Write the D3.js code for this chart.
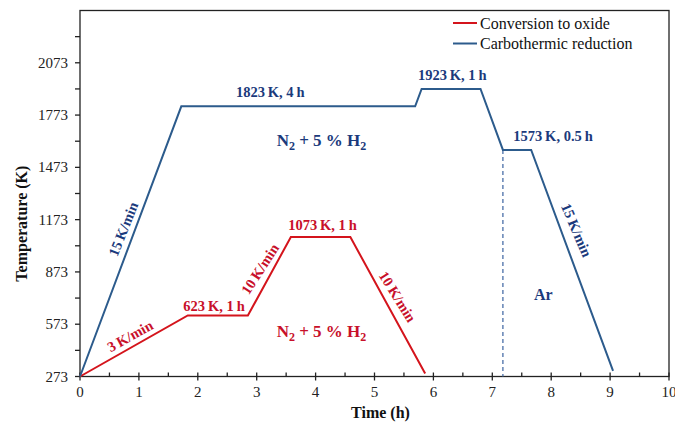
<!DOCTYPE html>
<html>
<head>
<meta charset="utf-8">
<script src="https://cdn.jsdelivr.net/npm/d3@7"></script>
<style>
  html, body { margin: 0; padding: 0; background: #fff; }
  svg text { font-family: "Liberation Serif", "Times New Roman", Times, "DejaVu Serif", serif; }
</style>
</head>
<body>
<svg id="chart" width="675" height="426"></svg>
<script>
// ---- data ----
const seriesNames = ["Conversion to oxide", "Carbothermic reduction"];
const redTime = [0, 1.83, 2.85, 3.58, 4.59, 5.86];
const redTemp = [273, 623, 623, 1073, 1073, 290];
const blueTime = [0, 1.72, 5.69, 5.80, 6.80, 7.18, 7.66, 9.05];
const blueTemp = [273, 1823, 1823, 1923, 1923, 1573, 1573, 305];
const xTicks = [0, 1, 2, 3, 4, 5, 6, 7, 8, 9, 10];
const yTicks = [273, 573, 873, 1173, 1473, 1773, 2073];
const gasSwitchTime = [7.18];
const gasSwitchTemp = [1573];

// ---- layout ----
const FONT = '"Liberation Serif", "Times New Roman", Times, "DejaVu Serif", serif';
const W = 675, H = 426;
const M = { left: 80, right: 6, top: 10.5, bottom: 49.5 };
const RED_LINE = "#d4141c", RED_TEXT = "#c8102a";
const BLUE_LINE = "#2c5b8c", BLUE_TEXT = "#1b3a7c";

const svg = d3.select("#chart");
const x = d3.scaleLinear().domain([0, 10]).range([M.left, W - M.right]);
const y = d3.scaleLinear().domain([273, 2373]).range([H - M.bottom, M.top]);

// frame
svg.append("rect")
  .attr("x", x(0)).attr("y", y(2373))
  .attr("width", x(10) - x(0)).attr("height", y(273) - y(2373))
  .attr("fill", "none").attr("stroke", "#222").attr("stroke-width", 1.3);

// x axis ticks
const gx = svg.append("g");
const xMinor = d3.range(0.5, 10, 1);
gx.selectAll("line.maj").data(xTicks).join("line")
  .attr("x1", d => x(d)).attr("x2", d => x(d))
  .attr("y1", y(273) - 4).attr("y2", y(273) + 4)
  .attr("stroke", "#222").attr("stroke-width", 1.3);
gx.selectAll("line.min").data(xMinor).join("line")
  .attr("x1", d => x(d)).attr("x2", d => x(d))
  .attr("y1", y(273) - 4).attr("y2", y(273))
  .attr("stroke", "#222").attr("stroke-width", 1.3);
gx.selectAll("text").data(xTicks).join("text")
  .attr("x", d => x(d)).attr("y", y(273) + 20)
  .attr("text-anchor", "middle").attr("font-size", 15).attr("fill", "#222")
  .attr("font-family", FONT)
  .text(d => d);

// y axis ticks
const gy = svg.append("g");
const yMinor = d3.range(423, 2373, 300);
gy.selectAll("line.maj").data(yTicks.concat(yMinor)).join("line")
  .attr("x1", x(0) - 5).attr("x2", x(0))
  .attr("y1", d => y(d)).attr("y2", d => y(d))
  .attr("stroke", "#222").attr("stroke-width", 1.3);
gy.selectAll("text").data(yTicks).join("text")
  .attr("x", x(0) - 12).attr("y", d => y(d))
  .attr("text-anchor", "end").attr("dominant-baseline", "central")
  .attr("font-size", 15).attr("fill", "#222")
  .attr("font-family", FONT)
  .text(d => d);

// axis titles
svg.append("text")
  .attr("x", (x(0) + x(10)) / 2 + 6).attr("y", H - 8)
  .attr("text-anchor", "middle").attr("font-size", 16).attr("font-weight", "bold")
  .attr("font-family", FONT)
  .attr("fill", "#111").text("Time (h)");
svg.append("text")
  .attr("transform", `translate(21,${(y(273) + y(2073)) / 2 + 4}) rotate(-90)`)
  .attr("text-anchor", "middle").attr("dominant-baseline", "central")
  .attr("font-size", 16).attr("font-weight", "bold")
  .attr("font-family", FONT)
  .attr("fill", "#111").text("Temperature (K)");

// dashed gas switch line
svg.append("line")
  .attr("x1", x(gasSwitchTime[0])).attr("x2", x(gasSwitchTime[0]))
  .attr("y1", y(gasSwitchTemp[0])).attr("y2", y(273))
  .attr("stroke", "#4a6fa8").attr("stroke-width", 1.3).attr("stroke-dasharray", "4,3");

// series lines
const line = d3.line().x(d => x(d[0])).y(d => y(d[1]));
svg.append("path").datum(redTime.map((t, i) => [t, redTemp[i]]))
  .attr("d", line).attr("fill", "none").attr("stroke", RED_LINE).attr("stroke-width", 2);
svg.append("path").datum(blueTime.map((t, i) => [t, blueTemp[i]]))
  .attr("d", line).attr("fill", "none").attr("stroke", BLUE_LINE).attr("stroke-width", 2);

// annotations
const notes = [
  { t: "1823\u2009K, 4\u2009h", x: 3.23, y: 1905, c: BLUE_TEXT, r: 0 },
  { t: "1923\u2009K, 1\u2009h", x: 6.32, y: 2003, c: BLUE_TEXT, r: 0 },
  { t: "1573\u2009K, 0.5\u2009h", x: 8.03, y: 1654, c: BLUE_TEXT, r: 0 },
  { t: "15\u2009K/min", x: 0.735, y: 1119, c: BLUE_TEXT, r: -68 },
  { t: "15\u2009K/min", x: 8.43, y: 1113, c: BLUE_TEXT, r: 67 },
  { t: "Ar", x: 7.866, y: 745, c: BLUE_TEXT, r: 0, s: 16 },
  { t: "3\u2009K/min", x: 0.85, y: 505, c: RED_TEXT, r: -29 },
  { t: "623\u2009K, 1\u2009h", x: 2.275, y: 677, c: RED_TEXT, r: 0 },
  { t: "10\u2009K/min", x: 3.056, y: 890, c: RED_TEXT, r: -57 },
  { t: "1073\u2009K, 1\u2009h", x: 4.117, y: 1142, c: RED_TEXT, r: 0 },
  { t: "10\u2009K/min", x: 5.39, y: 731, c: RED_TEXT, r: 58 }
];
svg.append("g").selectAll("text").data(notes).join("text")
  .attr("transform", d => `translate(${x(d.x)},${y(d.y)}) rotate(${d.r})`)
  .attr("text-anchor", "middle").attr("dominant-baseline", "central")
  .attr("font-size", d => d.s || 14.5).attr("font-weight", "bold")
  .attr("font-family", FONT)
  .attr("fill", d => d.c).text(d => d.t);

// gas labels with subscripts
const gasNotes = [
  { x: 4.10, y: 1624, c: BLUE_TEXT },
  { x: 4.10, y: 530, c: RED_TEXT }
];
gasNotes.forEach(g => {
  const tx = svg.append("text")
    .attr("x", x(g.x)).attr("y", y(g.y) + 5)
    .attr("text-anchor", "middle").attr("font-family", FONT)
    .attr("font-size", 17).attr("font-weight", "bold").attr("fill", g.c);
  tx.append("tspan").text("N");
  tx.append("tspan").attr("font-size", 12).attr("dy", 4).text("2");
  tx.append("tspan").attr("dy", -4).text(" + 5 % H");
  tx.append("tspan").attr("font-size", 12).attr("dy", 4).text("2");
});

// legend
const legendColors = [RED_LINE, BLUE_LINE];
const lg = svg.append("g");
seriesNames.forEach((n, i) => {
  const ly = 23 + i * 20.5;
  lg.append("line").attr("x1", 453).attr("x2", 477).attr("y1", ly).attr("y2", ly)
    .attr("stroke", legendColors[i]).attr("stroke-width", 2);
  lg.append("text").attr("x", 480).attr("y", ly).attr("dominant-baseline", "central")
    .attr("font-family", FONT)
    .attr("font-size", 16).attr("fill", "#111").text(n);
});
</script>
</body>
</html>
